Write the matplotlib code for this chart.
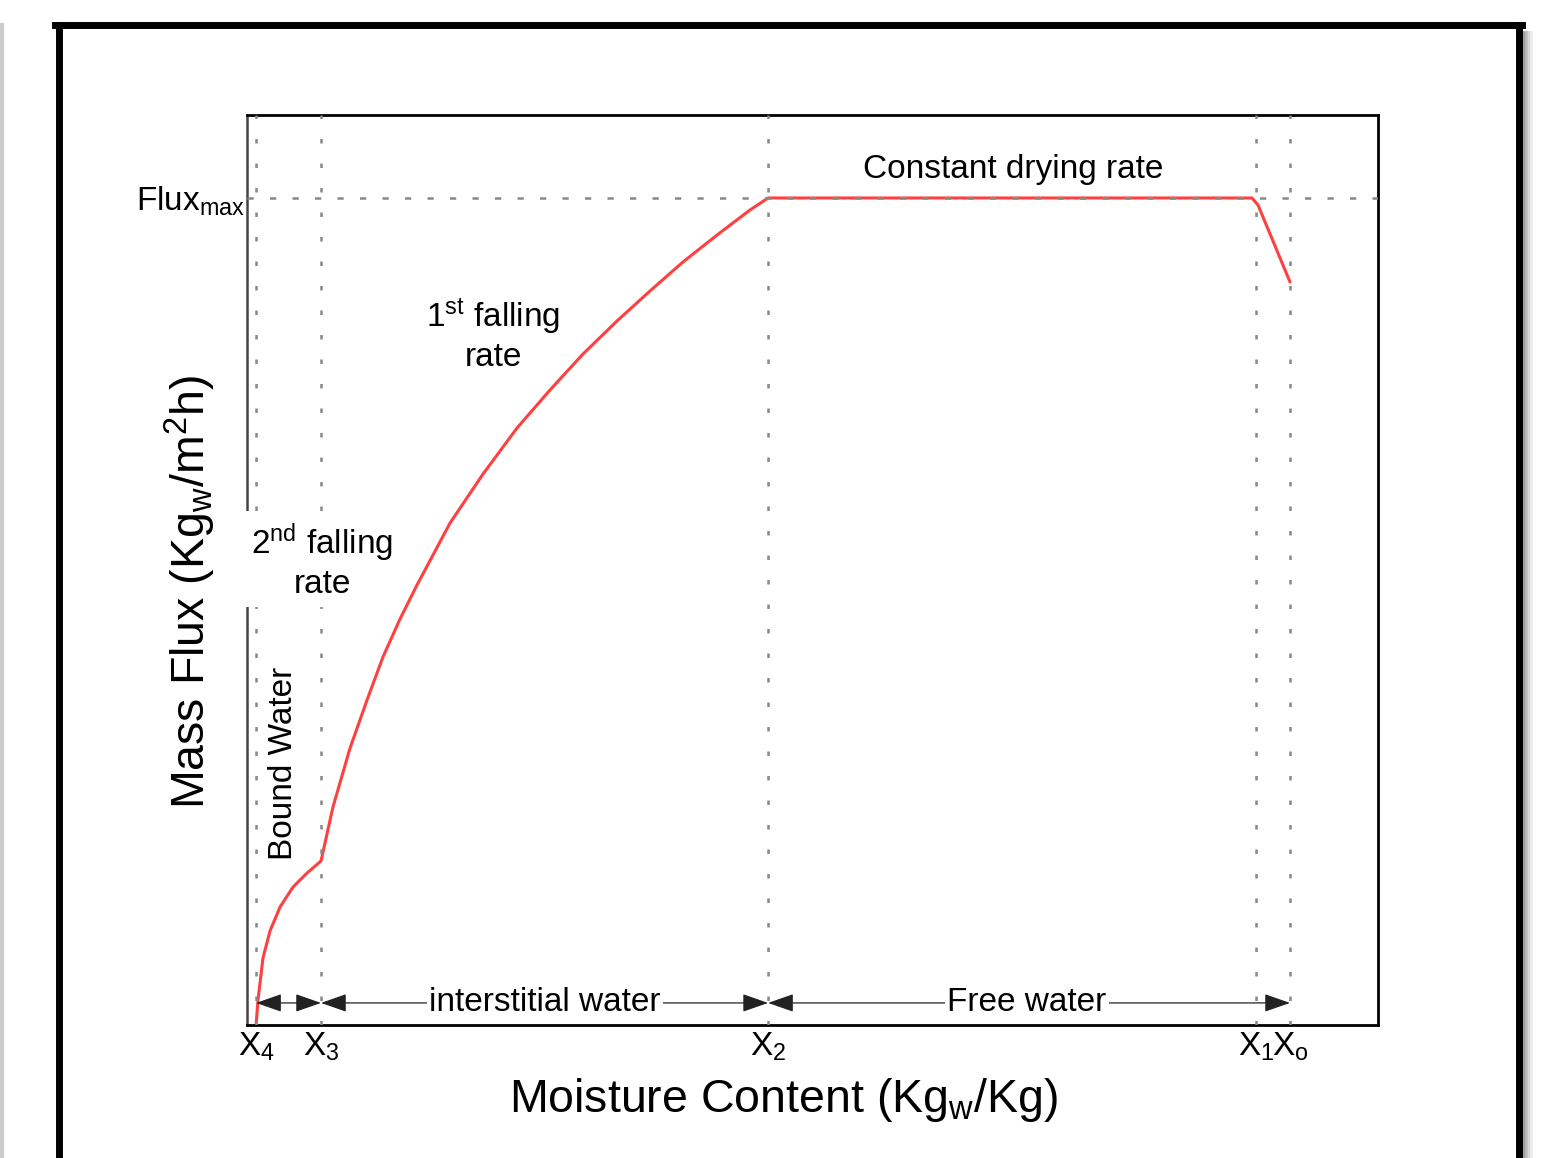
import matplotlib
matplotlib.use("Agg")
import matplotlib.pyplot as plt
from matplotlib.lines import Line2D

plt.rcParams['font.family'] = ['Liberation Sans', 'DejaVu Sans']
plt.rcParams['mathtext.fontset'] = 'custom'
plt.rcParams['mathtext.rm'] = 'Liberation Sans'
plt.rcParams['mathtext.it'] = 'Liberation Sans:italic'
plt.rcParams['mathtext.bf'] = 'Liberation Sans:bold'

# drying curve (arbitrary units)
moisture = [0.80, 0.97, 1.41, 2.03, 2.92, 4.07, 5.31, 6.54,
            7.60, 9.11, 10.61, 12.02, 13.53, 15.03, 17.95, 20.87, 23.87,
            26.79, 29.71, 32.71, 35.63, 38.55, 41.56, 44.47, 46.07,
            88.86, 89.39, 92.22]
flux = [0.0, 2.75, 7.36, 10.33, 12.97, 15.16, 16.70, 18.02,
        23.96, 30.44, 35.71, 40.44, 44.62, 48.35, 55.16, 60.55, 65.60,
        69.78, 73.74, 77.36, 80.66, 83.85, 86.81, 89.56, 90.88,
        90.88, 90.11, 81.65]

# critical moisture contents
x_marks = [0.80, 6.54, 46.07, 89.21, 92.22]
x_labels = [r'X$_\mathrm{4}$', r'X$_\mathrm{3}$', r'X$_\mathrm{2}$',
            r'X$_\mathrm{1}$', r'X$_\mathrm{o}$']
flux_max = 90.88

arrow_y = 2.42
regions = [(0.80, 6.54, None, 0), (6.54, 46.07, 'interstitial water', 26.35),
           (46.07, 92.22, 'Free water', 68.97)]

fig = plt.figure(figsize=(15.45, 11.58), dpi=100)

# outer frame with a small shadow
fw = 5.0
top = 1 - 25 / 1158
fig.add_artist(Line2D([58.5 / 1545] * 2, [top, -0.02], color='black', lw=fw))
fig.add_artist(Line2D([1518.5 / 1545] * 2, [top, -0.02], color='black', lw=fw))
fig.add_artist(Line2D([58.5 / 1545 - 0.0023, 1518.5 / 1545 + 0.0023],
                      [top] * 2, color='black', lw=fw))
for i, c in enumerate(['#9a9a9a', '#bcbcbc', '#d8d8d8', '#ececec']):
    xs = (1523.5 + 2.5 * i) / 1545
    fig.add_artist(Line2D([xs, xs], [1 - 32 / 1158, -0.02], color=c, lw=2))
fig.add_artist(Line2D([1.5 / 1545] * 2, [top, -0.02], color='#cccccc', lw=3))

ax = fig.add_axes([0.1599, 0.1149, 0.7320, 0.7858])
ax.set_xlim(0, 100)
ax.set_ylim(0, 100)

ax.plot(moisture, flux, color='#ff4040', lw=2.2, zorder=2,
        solid_capstyle='round', solid_joinstyle='round')

for xm in x_marks:
    ax.axvline(xm, color='#888888', lw=1.8, ls=(0, (1.8, 8)), zorder=3)
ax.axhline(flux_max, color='#888888', lw=1.8, ls=(0, (2.5, 6.5)), zorder=3)

for x0, x1, label, xt in regions:
    ax.annotate('', xy=(x1, arrow_y), xytext=(x0, arrow_y),
                arrowprops=dict(arrowstyle='<|-|>,head_length=0.8,head_width=0.28',
                                mutation_scale=20, color='#222222', lw=0.9,
                                shrinkA=0, shrinkB=0), zorder=4)
    if label:
        ax.text(xt, arrow_y, label, fontsize=24, ha='center', va='center', zorder=5,
                bbox=dict(facecolor='white', edgecolor='none', pad=2))

ax.text(67.7, 93.96, 'Constant drying rate', fontsize=24, ha='center', va='center')
ax.text(21.75, 75.8, '1$^\\mathrm{st}$ falling\nrate', fontsize=24,
        ha='center', va='center', multialignment='center')
ax.text(6.63, 51.0, '2$^\\mathrm{nd}$ falling\nrate', fontsize=24,
        ha='center', va='center', multialignment='center', zorder=6, clip_on=False,
        bbox=dict(facecolor='white', edgecolor='none', pad=5))
ax.text(3.18, 28.8, 'Bound Water', fontsize=24, rotation=90,
        ha='center', va='center')

ax.set_xticks(x_marks)
ax.set_xticklabels(x_labels, fontsize=24)
ax.set_yticks([flux_max])
ax.set_yticklabels([r'Flux$_\mathrm{max}$'], fontsize=24)
ax.tick_params(length=0, pad=4)
ax.tick_params(axis='y', pad=1)

ax.set_xlabel(r'Moisture Content (Kg$_\mathrm{w}$/Kg)', fontsize=33.5, va='center')
ax.xaxis.set_label_coords(0.474, -0.082)
ax.set_ylabel(r'Mass Flux (Kg$_\mathrm{w}$/m$^\mathrm{2}$h)', fontsize=33.5, va='center')
ax.yaxis.set_label_coords(-0.0504, 0.476)

for side in ['top', 'right', 'bottom']:
    ax.spines[side].set_linewidth(2.0)
    ax.spines[side].set_color('black')
ax.spines['left'].set_linewidth(1.8)
ax.spines['left'].set_color('#444444')

fig.savefig('out.png', dpi=100)
